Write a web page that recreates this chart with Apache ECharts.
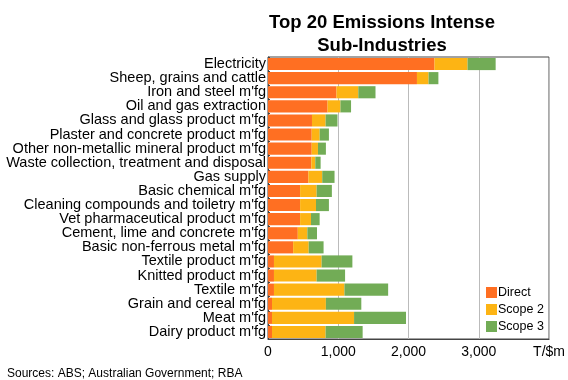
<!DOCTYPE html>
<html>
<head>
<meta charset="utf-8">
<script src="https://cdn.jsdelivr.net/npm/echarts@6/dist/echarts.min.js"></script>
<style>
  html, body { margin: 0; padding: 0; background: #fff; }
  #chart { width: 568px; height: 380px; }
</style>
</head>
<body>
<div id="chart"></div>
<script>
  // sub-industries, top to bottom
  const industries = [
    'Electricity', 'Sheep, grains and cattle', 'Iron and steel m\'fg', 'Oil and gas extraction',
    'Glass and glass product m\'fg', 'Plaster and concrete product m\'fg',
    'Other non-metallic mineral product m\'fg', 'Waste collection, treatment and disposal',
    'Gas supply', 'Basic chemical m\'fg', 'Cleaning compounds and toiletry m\'fg',
    'Vet pharmaceutical product m\'fg', 'Cement, lime and concrete m\'fg',
    'Basic non-ferrous metal m\'fg', 'Textile product m\'fg', 'Knitted product m\'fg',
    'Textile m\'fg', 'Grain and cereal m\'fg', 'Meat m\'fg', 'Dairy product m\'fg'
  ]
  // T/$m
  const direct = [2370, 2120, 975, 848, 626, 622, 622, 617, 575, 457, 457, 457, 424, 358, 85, 85, 85, 57, 57, 57]
  const scope2 = [470, 165, 310, 183, 194, 113, 89, 56, 197, 235, 226, 155, 136, 221, 678, 607, 1003, 767, 1168, 763]
  const scope3 = [400, 140, 245, 151, 169, 132, 113, 76, 175, 217, 184, 123, 137, 212, 438, 405, 622, 504, 739, 527]

  const xTicks = [0, 1000, 2000, 3000]
  const unitLabel = 'T/$m'

  const chart = echarts.init(document.getElementById('chart'))

  const font = 'Liberation Sans, Arial, sans-serif'

  chart.setOption({
    animation: false,
    textStyle: { fontFamily: font },
    title: {
      text: 'Top 20 Emissions Intense\nSub-Industries',
      left: 377,
      top: 6,
      textAlign: 'center',
      textStyle: { fontSize: 18.5, fontWeight: 'bold', color: '#000', lineHeight: 23, fontFamily: font }
    },
    legend: {
      orient: 'vertical',
      left: 481,
      top: 281,
      padding: 5,
      itemWidth: 11,
      itemHeight: 11,
      itemGap: 4,
      icon: 'rect',
      textStyle: { fontSize: 12.5, color: '#000', padding: [0, 0, 0, -4] },
      data: ['Direct', 'Scope 2', 'Scope 3']
    },
    grid: {
      left: 268,
      right: 17,
      top: 57,
      bottom: 41,
      show: true,
      borderColor: '#444',
      borderWidth: 1
    },
    xAxis: {
      type: 'value',
      min: 0,
      max: 4000,
      interval: 1000,
      axisLine: { show: true, lineStyle: { color: '#444' } },
      axisTick: { show: false },
      splitLine: { show: true, lineStyle: { color: '#bbb', width: 1 } },
      axisLabel: {
        fontSize: 14,
        color: '#000',
        margin: 6,
        formatter: v => xTicks.includes(v) ? v.toLocaleString('en-US') : unitLabel
      }
    },
    yAxis: {
      type: 'category',
      inverse: true,
      data: industries,
      axisLine: { show: true, lineStyle: { color: '#444' } },
      axisTick: { show: true, inside: true, length: 2, lineStyle: { color: '#444' } },
      axisLabel: { fontSize: 14.5, color: '#000', margin: 2, interval: 0 }
    },
    series: [
      { name: 'Direct', type: 'bar', stack: 'total', data: direct, barCategoryGap: '14%', itemStyle: { color: '#FF6F22' } },
      { name: 'Scope 2', type: 'bar', stack: 'total', data: scope2, itemStyle: { color: '#FDB414' } },
      { name: 'Scope 3', type: 'bar', stack: 'total', data: scope3, itemStyle: { color: '#72AC56' } }
    ],
    graphic: [{
      type: 'text',
      left: 7,
      top: 368,
      style: { text: 'Sources: ABS; Australian Government; RBA', fontSize: 12, fill: '#000', fontFamily: font }
    }]
  })
</script>
</body>
</html>
